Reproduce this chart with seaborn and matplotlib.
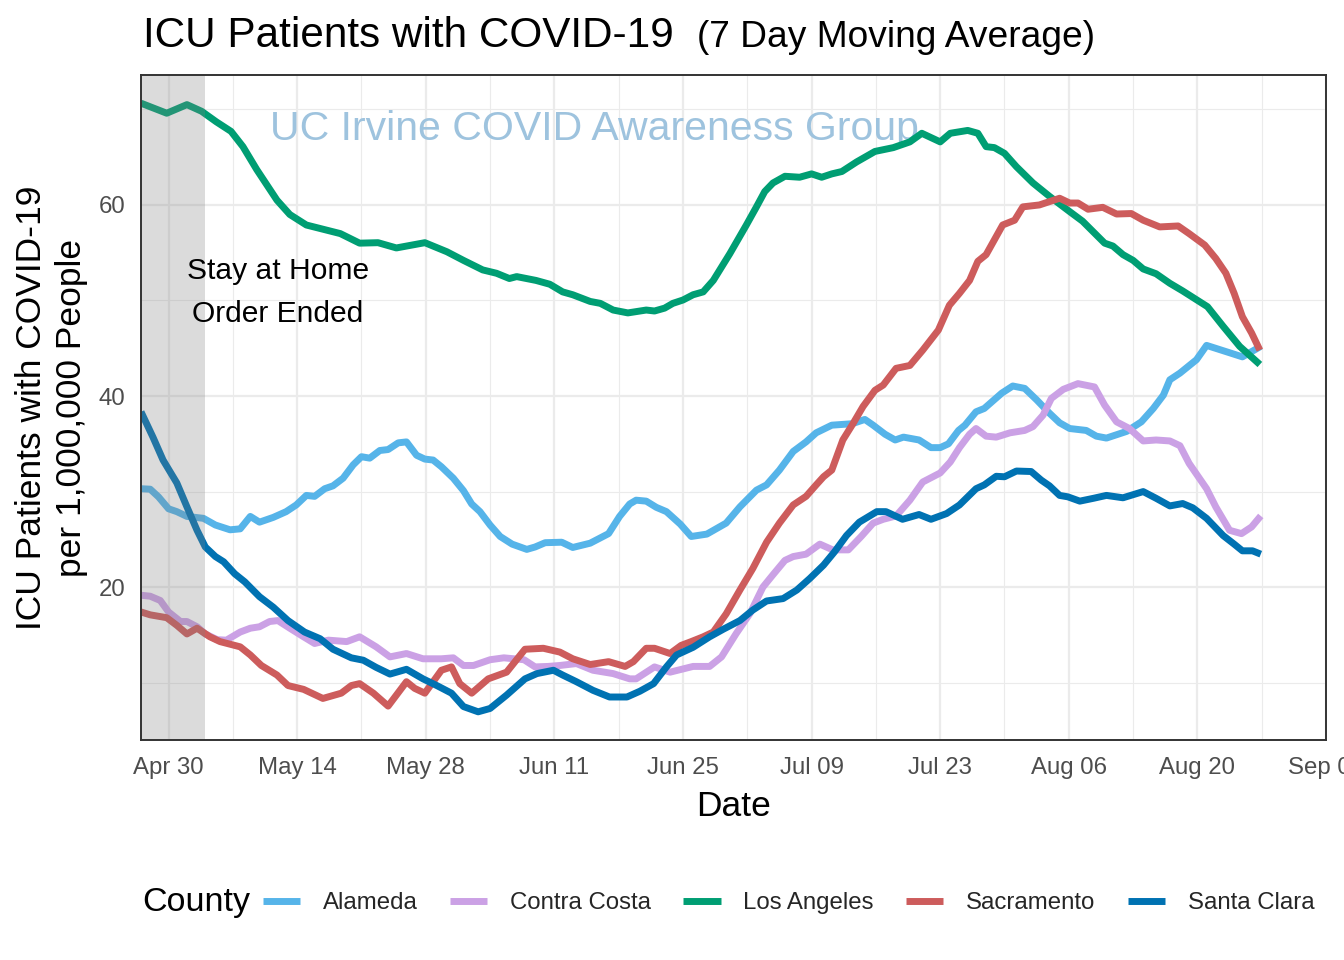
import numpy as np
import pandas as pd
import matplotlib
matplotlib.use("Agg")
import matplotlib.pyplot as plt
import matplotlib.dates as mdates
import seaborn as sns

# ---------------- data (days since 2020-04-27, value per 1,000,000) ----------------
start_date = "2020-04-27"
counties = ["Alameda", "Contra Costa", "Los Angeles", "Sacramento", "Santa Clara"]
colors = ["#56B4E9", "#CBA1E5", "#009E73", "#CD5C5C", "#0072B2"]

alameda_day = [0, 1, 1.9, 3, 3.9, 5, 6.8, 8.1, 9.7, 10.8, 11.9, 12.9, 14.4, 15.8, 16.9, 18, 18.9, 20,
               20.9, 22, 23.1, 24, 24.9, 26, 26.9, 28, 28.9, 30, 30.9, 31.8, 32.7, 34, 35.1, 36, 36.9,
               38, 39.1, 40.4, 42, 42.9, 44, 45.8, 47, 48.9, 50.9, 52.1, 53.2, 53.9, 55, 56.1, 57.2,
               58.7, 59.9, 61.6, 63.7, 65.2, 67, 68.1, 69.5, 71, 72.4, 73.5, 75.2, 77.4, 78.8, 79.7,
               81, 82.1, 83, 84.7, 86, 87, 87.9, 89, 89.7, 90.9, 91.8, 93.7, 94.9, 96.2, 97.5, 98.9,
               100, 101.1, 102.9, 104, 105.1, 107.3, 108.9, 110.2, 111.3, 112, 113.1, 114.9, 116,
               119.9, 121.9]
alameda_val = [30.3, 30.25, 29.45, 28.2, 27.9, 27.4, 27.2, 26.5, 26.0, 26.1, 27.4, 26.8, 27.3, 27.9,
               28.6, 29.6, 29.5, 30.3, 30.6, 31.4, 32.8, 33.65, 33.5, 34.3, 34.4, 35.1, 35.2, 33.8,
               33.4, 33.3, 32.6, 31.4, 30.1, 28.7, 27.9, 26.5, 25.3, 24.5, 23.95, 24.2, 24.65, 24.7,
               24.15, 24.6, 25.6, 27.4, 28.7, 29.1, 29.0, 28.35, 27.9, 26.6, 25.3, 25.55, 26.7, 28.4,
               30.15, 30.7, 32.25, 34.2, 35.2, 36.15, 36.95, 37.1, 37.55, 36.95, 36.0, 35.4, 35.7,
               35.4, 34.6, 34.6, 35.0, 36.4, 36.95, 38.35, 38.7, 40.3, 41.05, 40.8, 39.6, 38.2, 37.2,
               36.6, 36.4, 35.8, 35.6, 36.3, 37.3, 38.7, 40.1, 41.7, 42.4, 43.8, 45.3, 44.1, 45.2]

contra_costa_day = [0, 1, 2.1, 3, 4.3, 5, 6.1, 7, 8.3, 9.3, 10.8, 11.9, 12.9, 14, 14.9, 16.2, 17.7,
                    18.9, 20.4, 22.4, 23.8, 25.6, 27.1, 28.9, 30.7, 32.7, 34, 35.1, 36.2, 38, 39.5,
                    41.7, 42.9, 44.3, 45.6, 47.4, 49.2, 51.4, 53.2, 53.9, 55.9, 57.6, 60.1, 61.9,
                    63.2, 64.8, 66.3, 67.7, 68.8, 70.1, 71, 72.4, 73.9, 75.3, 77, 78.4, 79.7, 80.8,
                    82.2, 83.7, 85.1, 87, 88.1, 89.1, 90.2, 90.9, 92, 93.1, 94.6, 96.2, 97.1, 98.2,
                    99.1, 100.4, 102, 103.8, 104.9, 106.2, 107.6, 109.1, 110.5, 112, 113.1, 114.1,
                    116, 117, 118.5, 119.8, 120.9, 121.9]
contra_costa_val = [19.15, 19.05, 18.6, 17.4, 16.4, 16.4, 15.85, 15.1, 14.5, 14.45, 15.3, 15.7, 15.85,
                    16.4, 16.5, 15.7, 14.8, 14.1, 14.45, 14.3, 14.8, 13.75, 12.7, 13.05, 12.5, 12.5,
                    12.6, 11.8, 11.8, 12.4, 12.6, 12.4, 11.65, 11.7, 11.8, 12.0, 11.3, 10.95, 10.4,
                    10.4, 11.65, 11.1, 11.7, 11.7, 12.7, 15.15, 17.25, 20.0, 21.3, 22.8, 23.2, 23.45,
                    24.5, 23.9, 23.9, 25.3, 26.7, 27.1, 27.45, 29.1, 31.0, 31.95, 33.1, 34.6, 36.0,
                    36.6, 35.8, 35.7, 36.15, 36.4, 36.8, 38.0, 39.75, 40.7, 41.3, 40.95, 39.05, 37.3,
                    36.6, 35.3, 35.4, 35.3, 34.8, 32.95, 30.3, 28.4, 25.95, 25.6, 26.3, 27.45]

los_angeles_day = [0, 2.8, 5, 6.6, 8.2, 9.8, 11.1, 12.6, 14.8, 16.2, 18, 21.7, 23.8, 25.8, 27.8, 30.9,
                   33.3, 35.1, 37.2, 38.7, 40.1, 40.9, 43, 44.5, 45.9, 47, 48.9, 50, 51.4, 53, 55,
                   55.9, 57, 57.9, 59, 60.1, 61.2, 62.3, 64.1, 65.9, 67, 67.9, 68.8, 70.1, 71.7, 73,
                   74.1, 75.2, 76.3, 77.9, 79.9, 81.9, 83.7, 85, 87, 88.1, 90, 91.1, 92, 92.9, 94,
                   95.3, 97.1, 98.9, 101.1, 102.5, 104.9, 105.8, 106.9, 108, 109.1, 110.5, 112,
                   113.4, 116.1, 117.8, 119.6, 121.8]
los_angeles_val = [70.65, 69.6, 70.5, 69.8, 68.7, 67.7, 66.1, 63.7, 60.5, 59.0, 57.9, 57.0, 56.0,
                   56.05, 55.5, 56.05, 55.1, 54.2, 53.2, 52.85, 52.3, 52.5, 52.1, 51.7, 50.9, 50.6,
                   49.9, 49.7, 49.0, 48.7, 49.0, 48.9, 49.2, 49.7, 50.05, 50.6, 50.9, 52.1, 54.9,
                   57.9, 59.8, 61.4, 62.3, 63.0, 62.9, 63.25, 62.9, 63.25, 63.5, 64.5, 65.6, 66.0,
                   66.6, 67.5, 66.6, 67.5, 67.8, 67.5, 66.1, 66.0, 65.4, 64.0, 62.3, 60.9, 59.3, 58.3,
                   56.0, 55.7, 54.8, 54.2, 53.3, 52.8, 51.8, 51.0, 49.35, 47.3, 45.2, 43.3]

sacramento_day = [0, 1, 2.8, 3.9, 5, 6.1, 7.5, 8.6, 10.8, 11.9, 13.1, 14.8, 16, 17.7, 19.8, 21.8,
                  22.9, 23.8, 25.3, 26.9, 28.9, 29.8, 30.9, 32.7, 33.8, 34.7, 36, 37.8, 39.8, 41.8,
                  43.8, 45.6, 47, 48.9, 50.9, 52.7, 53.6, 55, 55.9, 57.6, 58.8, 59.9, 61.2, 62.3,
                  63.7, 65.2, 66.6, 68.1, 69.5, 71, 72.4, 73.5, 74.3, 75.2, 76.4, 77.5, 78.6, 79.9,
                  80.8, 82.2, 83.7, 85.1, 86.8, 88, 89.1, 90.2, 91.1, 92, 93.8, 95.1, 96, 97.8, 98.9,
                  100, 101.1, 102, 103.1, 104.7, 106.2, 107.8, 109.1, 110.9, 112.9, 114.1, 115.8,
                  117, 118.1, 119, 119.9, 120.9, 121.8]
sacramento_val = [17.4, 17.1, 16.8, 16.0, 15.1, 15.7, 14.8, 14.3, 13.75, 12.9, 11.8, 10.8, 9.7, 9.3,
                  8.35, 8.9, 9.7, 9.9, 8.9, 7.55, 10.1, 9.4, 8.9, 11.3, 11.65, 9.9, 8.9, 10.4, 11.1,
                  13.5, 13.6, 13.2, 12.5, 11.9, 12.2, 11.7, 12.2, 13.6, 13.6, 13.05, 13.9, 14.3, 14.8,
                  15.3, 17.2, 19.7, 21.95, 24.7, 26.7, 28.6, 29.5, 30.7, 31.55, 32.25, 35.4, 37.1,
                  38.9, 40.6, 41.15, 42.9, 43.2, 44.8, 46.9, 49.5, 50.75, 52.1, 54.1, 54.8, 57.9,
                  58.4, 59.8, 60.0, 60.35, 60.7, 60.2, 60.2, 59.55, 59.75, 59.05, 59.1, 58.4, 57.7,
                  57.8, 57.0, 55.8, 54.4, 52.85, 50.75, 48.3, 46.6, 44.8]

santa_clara_day = [0, 1.3, 2.4, 3.9, 5, 6.1, 7, 8.1, 9, 10.2, 11.3, 12.9, 14.4, 16, 17.8, 19.5, 20.9,
                   22.9, 24.2, 25.6, 27.1, 28.9, 30.7, 32.2, 33.8, 35.1, 36.7, 38, 39.8, 41.8, 43.1,
                   44.9, 45.9, 47.4, 49.2, 51, 52.9, 54.3, 55.8, 57.2, 58.3, 60.1, 61.9, 63.4, 65.2,
                   66.6, 68.1, 69.9, 71.4, 72.8, 74.3, 75.5, 76.8, 78.2, 80.1, 81.1, 82.9, 84.7, 86,
                   87.7, 89.1, 90.9, 91.8, 93.1, 94, 95.3, 96.9, 98, 98.9, 100, 100.9, 102.2, 103.7,
                   105.1, 106.9, 109.1, 110.5, 112, 113.4, 114.5, 116, 117.8, 119, 119.9, 121, 121.9]
santa_clara_val = [38.35, 35.7, 33.3, 30.9, 28.4, 25.95, 24.2, 23.2, 22.65, 21.4, 20.55, 19.0, 17.9,
                   16.5, 15.3, 14.6, 13.5, 12.6, 12.35, 11.6, 10.9, 11.4, 10.4, 9.7, 8.9, 7.5, 6.95,
                   7.3, 8.7, 10.4, 10.95, 11.3, 10.8, 10.1, 9.2, 8.5, 8.5, 9.1, 9.9, 11.65, 12.9, 13.7,
                   14.8, 15.6, 16.5, 17.6, 18.55, 18.8, 19.7, 20.9, 22.3, 23.7, 25.4, 26.8, 27.9,
                   27.9, 27.1, 27.6, 27.1, 27.7, 28.6, 30.3, 30.7, 31.6, 31.55, 32.15, 32.1, 31.2,
                   30.6, 29.6, 29.45, 29.0, 29.3, 29.6, 29.35, 30.0, 29.3, 28.5, 28.75, 28.3, 27.2,
                   25.4, 24.5, 23.8, 23.8, 23.45]

x_tick_dates = ["2020-04-30", "2020-05-14", "2020-05-28", "2020-06-11", "2020-06-25", "2020-07-09",
                "2020-07-23", "2020-08-06", "2020-08-20", "2020-09-03"]
y_ticks = [20, 40, 60]
x_limits = ["2020-04-27", "2020-09-03"]
y_limits = [4.0, 73.6]
shade_range = ["2020-04-27", "2020-05-04"]

# ---------------- build long-form table ----------------
series = {
    "Alameda": (alameda_day, alameda_val),
    "Contra Costa": (contra_costa_day, contra_costa_val),
    "Los Angeles": (los_angeles_day, los_angeles_val),
    "Sacramento": (sacramento_day, sacramento_val),
    "Santa Clara": (santa_clara_day, santa_clara_val),
}
base = pd.Timestamp(start_date)
frames = []
for name, (days, vals) in series.items():
    frames.append(pd.DataFrame({
        "Date": base + pd.to_timedelta(np.array(days, dtype=float), unit="D"),
        "Value": vals,
        "County": name,
    }))
df = pd.concat(frames, ignore_index=True)

# ---------------- style ----------------
sns.set_theme(style="white")
plt.rcParams["font.family"] = ["Liberation Sans", "DejaVu Sans"]

W, H = 1344, 960
fig = plt.figure(figsize=(W / 100, H / 100), dpi=100)
ax_l, ax_r, ax_t, ax_b = 141, 1326, 75, 740
ax = fig.add_axes([ax_l / W, 1 - ax_b / H, (ax_r - ax_l) / W, (ax_b - ax_t) / H])

sns.lineplot(data=df, x="Date", y="Value", hue="County", hue_order=counties,
             palette=dict(zip(counties, colors)), linewidth=5.0, estimator=None,
             errorbar=None, ax=ax, zorder=3)
for ln in ax.get_lines():
    ln.set_solid_capstyle("butt")
    ln.set_solid_joinstyle("round")

ax.set_xlim(pd.Timestamp(x_limits[0]), pd.Timestamp(x_limits[1]))
ax.set_ylim(*y_limits)

# shading for stay-at-home period
ax.axvspan(pd.Timestamp(shade_range[0]), pd.Timestamp(shade_range[1]),
           color="#808080", alpha=0.28, lw=0, zorder=4)

# ticks and grid
major_x = [pd.Timestamp(d) for d in x_tick_dates]
minor_x = [d + pd.Timedelta(days=7) for d in major_x[:-1]]
ax.set_xticks(major_x)
ax.set_xticks(minor_x, minor=True)
ax.xaxis.set_major_formatter(mdates.DateFormatter("%b %d"))
ax.set_yticks(y_ticks)
ax.set_yticks([10, 30, 50, 70], minor=True)
ax.grid(which="major", color="#EBEBEB", linewidth=1.6, zorder=0)
ax.grid(which="minor", color="#EBEBEB", linewidth=0.8, zorder=0)
ax.set_axisbelow(True)
ax.tick_params(which="major", length=4.3, width=1.3, color="#333333",
               labelcolor="#4D4D4D", labelsize=17.3)
ax.tick_params(axis="x", which="major", pad=8)
ax.tick_params(axis="y", which="major", pad=7)
ax.tick_params(which="minor", length=0)
for sp in ax.spines.values():
    sp.set_color("#333333")
    sp.set_linewidth(1.4)
    sp.set_zorder(6)
ax.set_xlabel("")
ax.set_ylabel("")

# legend handles then remove axis legend
handles, labels = ax.get_legend_handles_labels()
if ax.get_legend() is not None:
    ax.get_legend().remove()

# watermark and annotation
ax.text(base + pd.Timedelta(days=49.4), 68.0, "UC Irvine COVID Awareness Group",
        color="#9EC3DE", fontsize=29.5, ha="center", va="center", zorder=2)
ax.text(base + pd.Timedelta(days=14.9), 53.1, "Stay at Home",
        fontsize=21.6, ha="center", va="center", color="black", zorder=5)
ax.text(base + pd.Timedelta(days=14.9), 48.6, "Order Ended",
        fontsize=21.6, ha="center", va="center", color="black", zorder=5)

# titles
fig.text(143 / W, 1 - 47 / H, "ICU Patients with COVID-19", fontsize=30.4,
         ha="left", va="baseline", color="black")
fig.text(697 / W, 1 - 47 / H, "(7 Day Moving Average)", fontsize=26.7,
         ha="left", va="baseline", color="black")
fig.text(32 / W, 1 - 407.5 / H, "ICU Patients with COVID-19", fontsize=25.5,
         rotation=90, ha="center", va="center", color="black")
fig.text(72 / W, 1 - 407.5 / H, "per 1,000,000 People", fontsize=25.5,
         rotation=90, ha="center", va="center", color="black")
fig.text(734 / W, 1 - 807 / H, "Date", fontsize=25.5, ha="center", va="center", color="black")

# legend
fig.text(142 / W, 1 - 903 / H, "County", fontsize=24.5, ha="left", va="center", color="black")
fig.legend(handles, labels, ncol=5, loc="center left", bbox_to_anchor=(263 / W, 1 - 903 / H),
           frameon=False, fontsize=17.3, handlelength=1.55, handletextpad=0.94,
           columnspacing=1.35, borderpad=0, borderaxespad=0)

fig.savefig("out.png", dpi=100)
